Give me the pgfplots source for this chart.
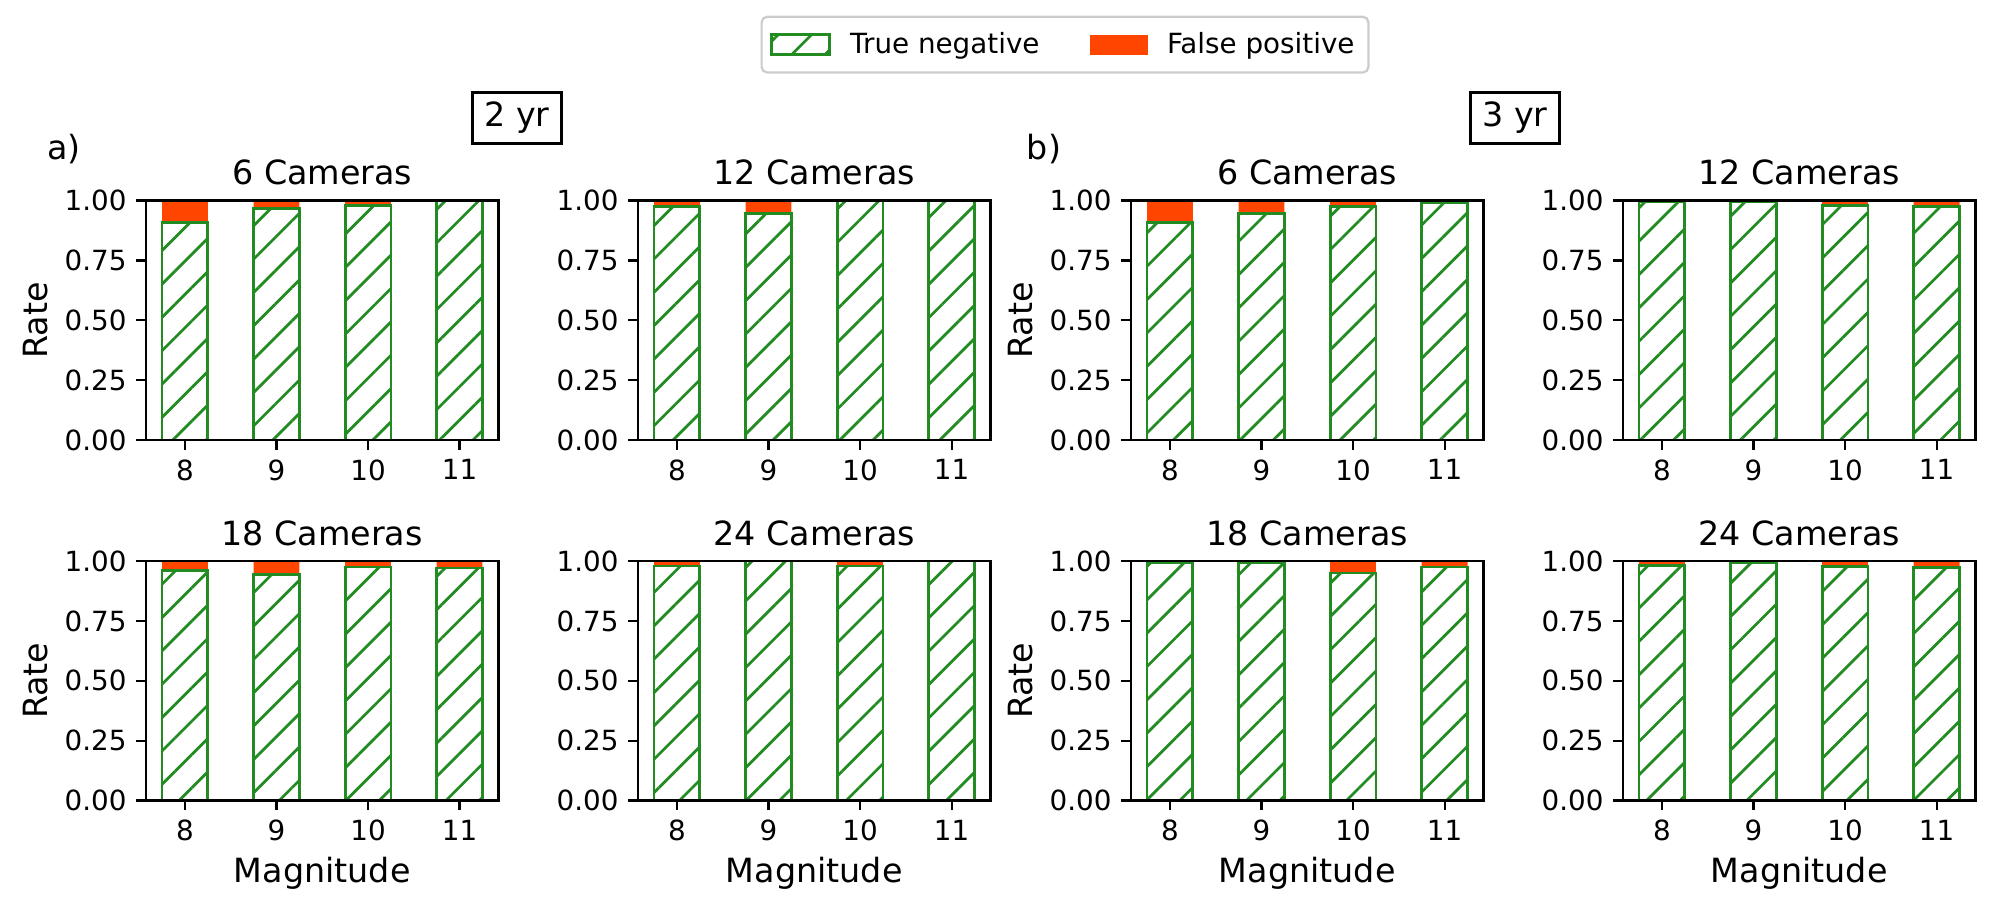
\documentclass[border=0pt]{standalone}
\usepackage{pgfplots}
\pgfplotsset{compat=1.18}
\usepackage{fontspec}
\setmainfont{DejaVu Sans}
\usetikzlibrary{patterns.meta}
\definecolor{tngreen}{HTML}{228B22}
\definecolor{fpred}{HTML}{FF4500}

\pgfplotsset{
  panel/.style={
    scale only axis, width=126.9bp, height=86.2bp,
    xmin=7.575, xmax=11.425, ymin=0, ymax=1,
    xtick={8,9,10,11}, ytick={0,0.25,0.5,0.75,1},
    ybar stacked, bar width=0.5,
    tick align=outside, tick pos=left, major tick length=3.5bp,
    every tick/.style={black, line width=0.8bp},
    axis line style={line width=0.8bp},
    axis on top,
    tick label style={font=\fontsize{10bp}{12bp}\selectfont},
    /pgf/number format/assume math mode=true,
    yticklabel style={/pgf/number format/.cd, fixed, fixed zerofill, precision=2},
    every axis title shift=0pt,
    title style={font=\fontsize{12bp}{14bp}\selectfont, at={(0.5,1.117)}, anchor=center},
    label style={font=\fontsize{12bp}{14bp}\selectfont},
    xlabel style={at={(axis description cs:0.5,-0.303)}, anchor=center},
    ylabel style={at={(axis description cs:-0.314,0.5)}, anchor=center},
    anchor=south west,
  },
  tn/.style={draw=tngreen, line width=1bp,
    pattern={Lines[angle=45,distance=8.49bp,line width=1bp]}, pattern color=tngreen,
    /pgfplots/legend image code/.code={\draw[##1, sharp corners] (0bp,-3.6bp) rectangle (20.9bp,3.6bp);}},
  fp/.style={fill=fpred, draw=none,
    /pgfplots/legend image code/.code={\fill[##1, sharp corners] (0bp,-3.6bp) rectangle (20.9bp,3.6bp);}},
}

% #1 x px, #2 y px (bottom), #3 options, #4 TN coords, #5 FP coords
\newcommand\panel[5]{%
  \begin{axis}[panel, at={({#1*0.36bp},{-#2*0.36bp})}, #3]
    \addplot[tn] coordinates {#4};
    \addplot[fp] coordinates {#5};
  \end{axis}%
}

\begin{document}
\begin{tikzpicture}[x=0.36bp,y=-0.36bp]
\useasboundingbox (0,0) rectangle (1995,913);

% ---- 2 yr ----
\panel{146}{440}{title={6 Cameras}, ylabel={Rate},
  legend entries={True negative, False positive},
  legend columns=2,
  legend cell align=left,
  legend style={at={(axis description cs:2.607,1.651)}, anchor=center,
    draw=black!20, rounded corners=2bp, line width=0.8bp,
    font=\fontsize{10bp}{12bp}\selectfont, inner xsep=3bp, inner ysep=3.5bp,
    /tikz/every odd column/.append style={column sep=5bp},
    /tikz/every even column/.append style={column sep=16bp}}}
  {(8,0.909) (9,0.966) (10,0.979) (11,1.0)}
  {(8,0.091) (9,0.034) (10,0.021) (11,0.0)}
\panel{638}{440}{title={12 Cameras}}
  {(8,0.976) (9,0.947) (10,1.0) (11,1.0)}
  {(8,0.024) (9,0.053) (10,0.0) (11,0.0)}
\panel{146}{800.5}{title={18 Cameras}, ylabel={Rate}, xlabel={Magnitude}}
  {(8,0.962) (9,0.945) (10,0.975) (11,0.971)}
  {(8,0.038) (9,0.055) (10,0.025) (11,0.029)}
\panel{638}{800.5}{title={24 Cameras}, xlabel={Magnitude}}
  {(8,0.979) (9,1.0) (10,0.979) (11,1.0)}
  {(8,0.021) (9,0.0) (10,0.021) (11,0.0)}

% ---- 3 yr ----
\panel{1131}{440}{title={6 Cameras}, ylabel={Rate}}
  {(8,0.908) (9,0.945) (10,0.975) (11,0.993)}
  {(8,0.092) (9,0.055) (10,0.025) (11,0.007)}
\panel{1623}{440}{title={12 Cameras}}
  {(8,0.994) (9,0.995) (10,0.979) (11,0.975)}
  {(8,0.006) (9,0.005) (10,0.021) (11,0.025)}
\panel{1131}{800.5}{title={18 Cameras}, ylabel={Rate}, xlabel={Magnitude}}
  {(8,0.994) (9,0.994) (10,0.950) (11,0.975)}
  {(8,0.006) (9,0.006) (10,0.050) (11,0.025)}
\panel{1623}{800.5}{title={24 Cameras}, xlabel={Magnitude}}
  {(8,0.982) (9,0.995) (10,0.978) (11,0.973)}
  {(8,0.018) (9,0.005) (10,0.022) (11,0.027)}

% ---- annotations ----
\node[font=\fontsize{12bp}{14bp}\selectfont] at (64,149) {a)};
\node[font=\fontsize{12bp}{14bp}\selectfont] at (1044,149) {b)};
\node[font=\fontsize{12bp}{14bp}\selectfont, draw=black, line width=1bp,
  inner xsep=4.2bp, inner ysep=3.5bp] at (517,118) {2 yr};
\node[font=\fontsize{12bp}{14bp}\selectfont, draw=black, line width=1bp,
  inner xsep=4.2bp, inner ysep=3.5bp] at (1515,118) {3 yr};
\end{tikzpicture}
\end{document}
